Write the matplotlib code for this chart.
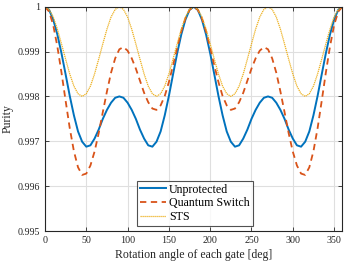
import numpy as np
import matplotlib
matplotlib.use("Agg")
import matplotlib.pyplot as plt

# rotation angle of each gate [deg], every 5 deg
angle = np.arange(0, 361, 5)

unprotected = [1.00000, 0.99993, 0.99971, 0.99938, 0.99896, 0.99849, 0.99801, 0.99758, 0.99722, 0.99699,
               0.99688, 0.99691, 0.99706, 0.99726, 0.99750, 0.99770, 0.99786, 0.99797, 0.99800, 0.99797,
               0.99786, 0.99770, 0.99750, 0.99726, 0.99706, 0.99691, 0.99688, 0.99699, 0.99722, 0.99758,
               0.99801, 0.99849, 0.99896, 0.99938, 0.99971, 0.99993, 1.00000,
               0.99993, 0.99971, 0.99938, 0.99896, 0.99849, 0.99801, 0.99758, 0.99722, 0.99699,
               0.99688, 0.99691, 0.99706, 0.99726, 0.99750, 0.99770, 0.99786, 0.99797, 0.99800, 0.99797,
               0.99786, 0.99770, 0.99750, 0.99726, 0.99706, 0.99691, 0.99688, 0.99699, 0.99722, 0.99758,
               0.99801, 0.99849, 0.99896, 0.99938, 0.99971, 0.99993, 1.00000]

quantum_switch = [1.00000, 0.99989, 0.99959, 0.99911, 0.99853, 0.99790, 0.99729, 0.99678, 0.99642, 0.99625,
                  0.99628, 0.99646, 0.99677, 0.99718, 0.99765, 0.99811, 0.99853, 0.99885, 0.99905, 0.99910,
                  0.99902, 0.99885, 0.99862, 0.99835, 0.99808, 0.99787, 0.99773, 0.99770, 0.99780, 0.99801,
                  0.99832, 0.99869, 0.99908, 0.99945, 0.99974, 0.99993, 1.00000,
                  0.99993, 0.99974, 0.99945, 0.99908, 0.99869, 0.99832, 0.99801, 0.99780, 0.99770,
                  0.99773, 0.99787, 0.99808, 0.99835, 0.99862, 0.99885, 0.99902, 0.99910, 0.99905, 0.99885,
                  0.99853, 0.99811, 0.99765, 0.99718, 0.99677, 0.99646, 0.99628, 0.99625, 0.99642, 0.99678,
                  0.99729, 0.99790, 0.99853, 0.99911, 0.99959, 0.99989, 1.00000]

sts = [1.00000, 0.99994, 0.99977, 0.99950, 0.99917, 0.99883, 0.99850, 0.99823, 0.99806, 0.99800,
       0.99806, 0.99823, 0.99850, 0.99883, 0.99917, 0.99950, 0.99977, 0.99994, 1.00000,
       0.99994, 0.99977, 0.99950, 0.99917, 0.99883, 0.99850, 0.99823, 0.99806, 0.99800,
       0.99806, 0.99823, 0.99850, 0.99883, 0.99917, 0.99950, 0.99977, 0.99994, 1.00000,
       0.99994, 0.99977, 0.99950, 0.99917, 0.99883, 0.99850, 0.99823, 0.99806, 0.99800,
       0.99806, 0.99823, 0.99850, 0.99883, 0.99917, 0.99950, 0.99977, 0.99994, 1.00000,
       0.99994, 0.99977, 0.99950, 0.99917, 0.99883, 0.99850, 0.99823, 0.99806, 0.99800,
       0.99806, 0.99823, 0.99850, 0.99883, 0.99917, 0.99950, 0.99977, 0.99994, 1.00000]

labels = ["Unprotected", "Quantum Switch", "STS"]
xticks = [0, 50, 100, 150, 200, 250, 300, 350]
yticks = [0.995, 0.996, 0.997, 0.998, 0.999, 1]
ytick_labels = ["0.995", "0.996", "0.997", "0.998", "0.999", "1"]

plt.rcParams['font.family'] = ['Liberation Serif', 'DejaVu Serif']

fig = plt.figure(figsize=(3.57, 2.68), dpi=100)
ax = fig.add_axes([0.126, 0.138, 0.833, 0.837])

ax.plot(angle, unprotected, color='#0072BD', lw=1.4, label=labels[0])
ax.plot(angle, quantum_switch, color='#D95319', lw=1.3, ls=(0, (3.5, 2.5)), label=labels[1])
ax.plot(angle, sts, color='#EDB120', lw=0.9, ls=(0, (1, 0.6)), label=labels[2])

ax.set_xlim(0, 360)
ax.set_ylim(0.995, 1)
ax.set_xticks(xticks)
ax.set_yticks(yticks)
ax.set_yticklabels(ytick_labels)
ax.grid(True, color='#dfdfdf', lw=0.8)
ax.set_axisbelow(True)
ax.tick_params(direction='in', top=True, right=True, labelsize=7.2, length=3, width=0.6, colors='#262626')
for s in ax.spines.values():
    s.set_linewidth(0.8)
    s.set_color('#262626')

ax.set_xlabel("Rotation angle of each gate [deg]", fontsize=8.5, color='#262626', labelpad=3)
ax.set_ylabel("Purity", fontsize=8.5, color='#262626', labelpad=3)

leg = ax.legend(loc='lower center', bbox_to_anchor=(0.503, 0.022), fontsize=8.6, frameon=True,
                fancybox=False, edgecolor='#262626', borderaxespad=0, handlelength=2.2,
                labelspacing=0.15, borderpad=0.25, handletextpad=0.25)
leg.get_frame().set_linewidth(0.8)

fig.savefig("out.png", dpi=100)
